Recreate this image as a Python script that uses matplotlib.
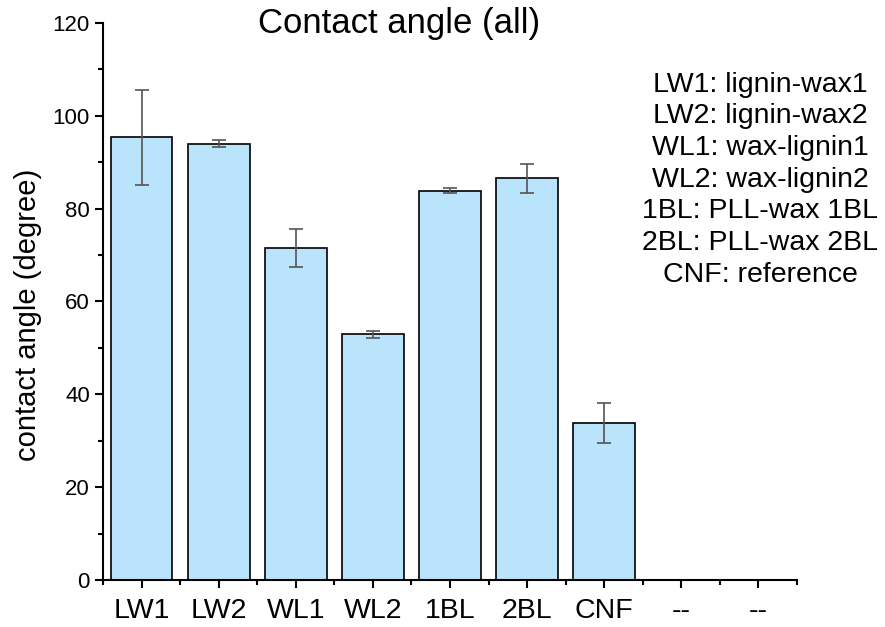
import matplotlib.pyplot as plt
import numpy as np

plt.rcParams['font.family'] = ['Liberation Sans', 'DejaVu Sans']

categories = ["LW1", "LW2", "WL1", "WL2", "1BL", "2BL", "CNF", "--", "--"]
angles = [95.4, 94.0, 71.6, 52.9, 83.9, 86.5, 33.9]
errors = [10.2, 0.7, 4.1, 0.8, 0.6, 3.2, 4.3]
notes = ["LW1: lignin-wax1", "LW2: lignin-wax2", "WL1: wax-lignin1",
         "WL2: wax-lignin2", "1BL: PLL-wax 1BL", "2BL: PLL-wax 2BL",
         "CNF: reference"]

fig = plt.figure(figsize=(8.85, 6.27), dpi=100)
ax = fig.add_axes([0.1164, 0.075, 0.7842, 0.8883])

x = np.arange(len(angles))
ax.bar(x, angles, width=0.8, color='#B9E4FC', edgecolor='black', linewidth=1.2)
ax.errorbar(x, angles, yerr=errors, fmt='none', ecolor='#555555',
            elinewidth=1.2, capsize=5, capthick=1.2)

ax.set_xlim(-0.5, len(categories) - 0.5)
ax.set_ylim(0, 120)
ax.set_xticks(np.arange(len(categories)))
ax.set_xticklabels(categories)
ax.set_xticks(np.arange(len(categories) + 1) - 0.5, minor=True)
ax.set_yticks(np.arange(0, 121, 20))
ax.set_yticks(np.arange(10, 120, 20), minor=True)

for s in ['top', 'right']:
    ax.spines[s].set_visible(False)
for s in ['left', 'bottom']:
    ax.spines[s].set_linewidth(1.5)
ax.tick_params(which='major', direction='out', length=6, width=1.5)
ax.tick_params(which='minor', direction='out', length=3.5, width=1.5)
ax.tick_params(axis='x', which='major', labelsize=20.5, pad=7)
ax.tick_params(axis='y', which='major', labelsize=16)

ax.set_ylabel('contact angle (degree)', fontsize=21)
ax.yaxis.set_label_coords(-0.088, 0.476)
fig.text(399 / 885, 1 - 33 / 627, 'Contact angle (all)', fontsize=25,
         ha='center', va='baseline')

for i, t in enumerate(notes):
    fig.text(760 / 885, 1 - (91.7 + 31.7 * i) / 627, t, fontsize=20.5,
             ha='center', va='baseline')

fig.savefig('out.png', dpi=100)
